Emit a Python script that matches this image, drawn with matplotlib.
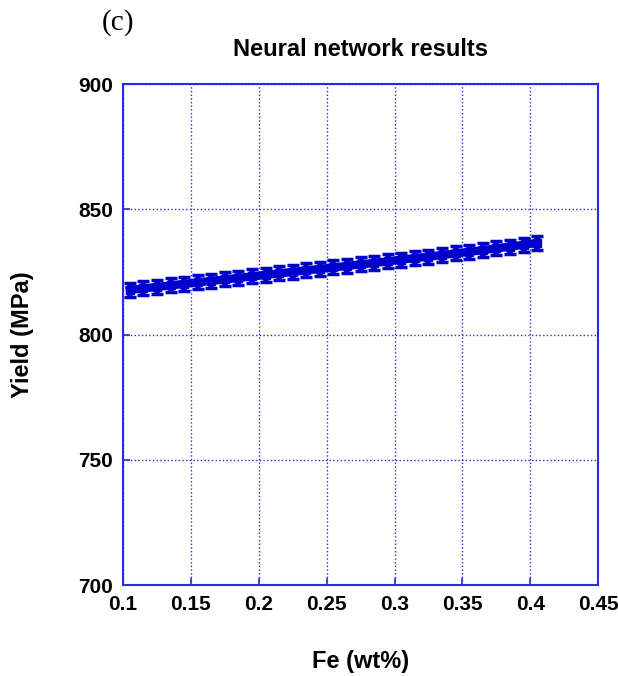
import numpy as np
import matplotlib
matplotlib.use('Agg')
import matplotlib.pyplot as plt

# Fe content (wt%) and predicted yield stress with error bars
fe = [0.105, 0.115, 0.125, 0.135, 0.145, 0.155, 0.165, 0.175, 0.185, 0.195,
      0.205, 0.215, 0.225, 0.235, 0.245, 0.255, 0.265, 0.275, 0.285, 0.295,
      0.305, 0.315, 0.325, 0.335, 0.345, 0.355, 0.365, 0.375, 0.385, 0.395,
      0.405]
yield_mpa = [817.8, 818.4, 819.0, 819.6, 820.2, 820.8, 821.4, 822.0, 822.6, 823.2,
             823.8, 824.4, 825.0, 825.6, 826.2, 826.8, 827.4, 828.0, 828.6, 829.2,
             829.9, 830.5, 831.1, 831.7, 832.4, 833.0, 833.7, 834.4, 835.1, 835.8,
             836.6]
err = [2.8] * len(fe)

xticks = [0.1, 0.15, 0.2, 0.25, 0.3, 0.35, 0.4, 0.45]
xticklabels = ['0.1', '0.15', '0.2', '0.25', '0.3', '0.35', '0.4', '0.45']
yticks = [700, 750, 800, 850, 900]

plt.rcParams['font.family'] = ['Liberation Sans', 'DejaVu Sans']
blue = '#0000cc'
frame = '#2a2ae0'

fig = plt.figure(figsize=(6.18, 6.76), dpi=100)
ax = fig.add_axes([0.199, 0.1346, 0.769, 0.7411])

ax.errorbar(fe, yield_mpa, yerr=err, color=blue, lw=6, elinewidth=4,
            capsize=4, capthick=2.5, marker='s', ms=6, zorder=3)

ax.set_xlim(0.1, 0.45)
ax.set_ylim(700, 900)
ax.set_xticks(xticks)
ax.set_xticklabels(xticklabels)
ax.set_yticks(yticks)
ax.grid(True, color=frame, ls=':', lw=1)
for s in ax.spines.values():
    s.set_color(frame)
    s.set_linewidth(1.5)
ax.tick_params(direction='in', color=frame, length=5, width=1.2, pad=7,
               labelsize=15)
for lab in ax.get_xticklabels() + ax.get_yticklabels():
    lab.set_fontweight('bold')

ax.set_xlabel('Fe (wt%)', fontsize=17, fontweight='bold', labelpad=26)
ax.set_ylabel('Yield (MPa)', fontsize=17, fontweight='bold', labelpad=32)
ax.set_title('Neural network results', fontsize=17, fontweight='bold', pad=20)
fig.text(0.165, 0.967, '(c)', fontsize=21, family='Liberation Serif',
         ha='left', va='center')

fig.savefig('out.png', dpi=100)
